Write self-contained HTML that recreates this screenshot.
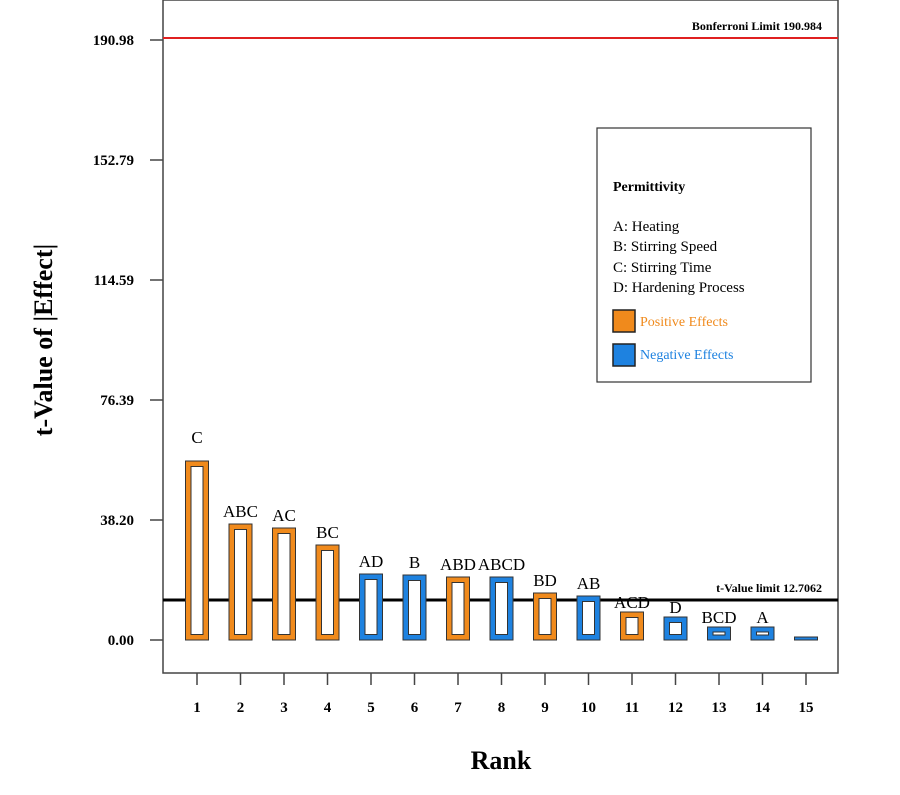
<!DOCTYPE html><html><head><style>body{margin:0;background:#fff}svg{display:block}</style></head><body>
<svg width="900" height="795" xmlns="http://www.w3.org/2000/svg" font-family="Liberation Serif, serif">
<rect x="163" y="0" width="675" height="673" fill="none" stroke="#444" stroke-width="1.5"/>
<line x1="163" y1="38" x2="838" y2="38" stroke="#e02020" stroke-width="2"/>
<text x="822" y="30" font-size="12" font-weight="bold" text-anchor="end">Bonferroni Limit 190.984</text>
<g stroke="#444" stroke-width="1.5">
<line x1="150" y1="40" x2="163" y2="40"/><line x1="150" y1="160" x2="163" y2="160"/><line x1="150" y1="280" x2="163" y2="280"/><line x1="150" y1="400" x2="163" y2="400"/><line x1="150" y1="520" x2="163" y2="520"/><line x1="150" y1="640" x2="163" y2="640"/>
</g>
<g font-size="15" font-weight="bold" text-anchor="end">
<text x="134" y="45">190.98</text><text x="134" y="165">152.79</text><text x="134" y="285">114.59</text><text x="134" y="405">76.39</text><text x="134" y="525">38.20</text><text x="134" y="645">0.00</text>
</g>
<text transform="translate(52,340) rotate(-90)" font-size="26" font-weight="bold" text-anchor="middle">t-Value of |Effect|</text>
<text x="501" y="769" font-size="26" font-weight="bold" text-anchor="middle">Rank</text>
<line x1="163" y1="600" x2="838" y2="600" stroke="#000" stroke-width="3"/>
<text x="822" y="592" font-size="12" font-weight="bold" text-anchor="end">t-Value limit 12.7062</text>
<g stroke="#333" stroke-width="1">
<rect x="185.5" y="461" width="23" height="179" fill="#f08a1c"/><rect x="191" y="466.5" width="12" height="168" fill="#fff"/>
<rect x="229" y="524" width="23" height="116" fill="#f08a1c"/><rect x="234.5" y="529.5" width="12" height="105" fill="#fff"/>
<rect x="272.5" y="528" width="23" height="112" fill="#f08a1c"/><rect x="278" y="533.5" width="12" height="101" fill="#fff"/>
<rect x="316" y="545" width="23" height="95" fill="#f08a1c"/><rect x="321.5" y="550.5" width="12" height="84" fill="#fff"/>
<rect x="359.5" y="574" width="23" height="66" fill="#1e82e0"/><rect x="365" y="579.5" width="12" height="55" fill="#fff"/>
<rect x="403" y="575" width="23" height="65" fill="#1e82e0"/><rect x="408.5" y="580.5" width="12" height="54" fill="#fff"/>
<rect x="446.5" y="577" width="23" height="63" fill="#f08a1c"/><rect x="452" y="582.5" width="12" height="52" fill="#fff"/>
<rect x="490" y="577" width="23" height="63" fill="#1e82e0"/><rect x="495.5" y="582.5" width="12" height="52" fill="#fff"/>
<rect x="533.5" y="593" width="23" height="47" fill="#f08a1c"/><rect x="539" y="598.5" width="12" height="36" fill="#fff"/>
<rect x="577" y="596" width="23" height="44" fill="#1e82e0"/><rect x="582.5" y="601.5" width="12" height="33" fill="#fff"/>
<rect x="620.5" y="612" width="23" height="28" fill="#f08a1c"/><rect x="626" y="617.5" width="12" height="17" fill="#fff"/>
<rect x="664" y="617" width="23" height="23" fill="#1e82e0"/><rect x="669.5" y="622.5" width="12" height="12" fill="#fff"/>
<rect x="707.5" y="627" width="23" height="13" fill="#1e82e0"/><rect x="713" y="632" width="12" height="3" fill="#fff"/>
<rect x="751" y="627" width="23" height="13" fill="#1e82e0"/><rect x="756.5" y="632" width="12" height="3" fill="#fff"/>
<rect x="794.5" y="637" width="23" height="3" fill="#1e82e0"/>
</g>
<g font-size="17" text-anchor="middle">
<text x="197" y="443">C</text><text x="240.5" y="517">ABC</text><text x="284" y="521">AC</text><text x="327.5" y="538">BC</text><text x="371" y="567">AD</text><text x="414.5" y="568">B</text><text x="458" y="570">ABD</text><text x="501.5" y="570">ABCD</text><text x="545" y="586">BD</text><text x="588.5" y="589">AB</text><text x="632" y="608">ACD</text><text x="675.5" y="613">D</text><text x="719" y="623">BCD</text><text x="762.5" y="623">A</text>
</g>
<g font-size="15" font-weight="bold" text-anchor="middle">
<text x="197" y="712">1</text><text x="240.5" y="712">2</text><text x="284" y="712">3</text><text x="327.5" y="712">4</text><text x="371" y="712">5</text><text x="414.5" y="712">6</text><text x="458" y="712">7</text><text x="501.5" y="712">8</text><text x="545" y="712">9</text><text x="588.5" y="712">10</text><text x="632" y="712">11</text><text x="675.5" y="712">12</text><text x="719" y="712">13</text><text x="762.5" y="712">14</text><text x="806" y="712">15</text>
</g>
<g stroke="#444" stroke-width="1.5">
<line x1="197" y1="673" x2="197" y2="685"/><line x1="240.5" y1="673" x2="240.5" y2="685"/><line x1="284" y1="673" x2="284" y2="685"/><line x1="327.5" y1="673" x2="327.5" y2="685"/><line x1="371" y1="673" x2="371" y2="685"/><line x1="414.5" y1="673" x2="414.5" y2="685"/><line x1="458" y1="673" x2="458" y2="685"/><line x1="501.5" y1="673" x2="501.5" y2="685"/><line x1="545" y1="673" x2="545" y2="685"/><line x1="588.5" y1="673" x2="588.5" y2="685"/><line x1="632" y1="673" x2="632" y2="685"/><line x1="675.5" y1="673" x2="675.5" y2="685"/><line x1="719" y1="673" x2="719" y2="685"/><line x1="762.5" y1="673" x2="762.5" y2="685"/><line x1="806" y1="673" x2="806" y2="685"/>
</g>
<rect x="597" y="128" width="214" height="254" fill="#fff" stroke="#333" stroke-width="1.2"/>
<text x="613" y="191" font-size="14" font-weight="bold">Permittivity</text>
<g font-size="15"><text x="613" y="231">A: Heating</text><text x="613" y="251">B: Stirring Speed</text><text x="613" y="272">C: Stirring Time</text><text x="613" y="292">D: Hardening Process</text></g>
<rect x="613" y="310" width="22" height="22" fill="#f08a1c" stroke="#222" stroke-width="1.5"/>
<text x="640" y="326" font-size="14" fill="#f08a1c">Positive Effects</text>
<rect x="613" y="344" width="22" height="22" fill="#1e82e0" stroke="#222" stroke-width="1.5"/>
<text x="640" y="359" font-size="14" fill="#1e82e0">Negative Effects</text>
</svg></body></html>
